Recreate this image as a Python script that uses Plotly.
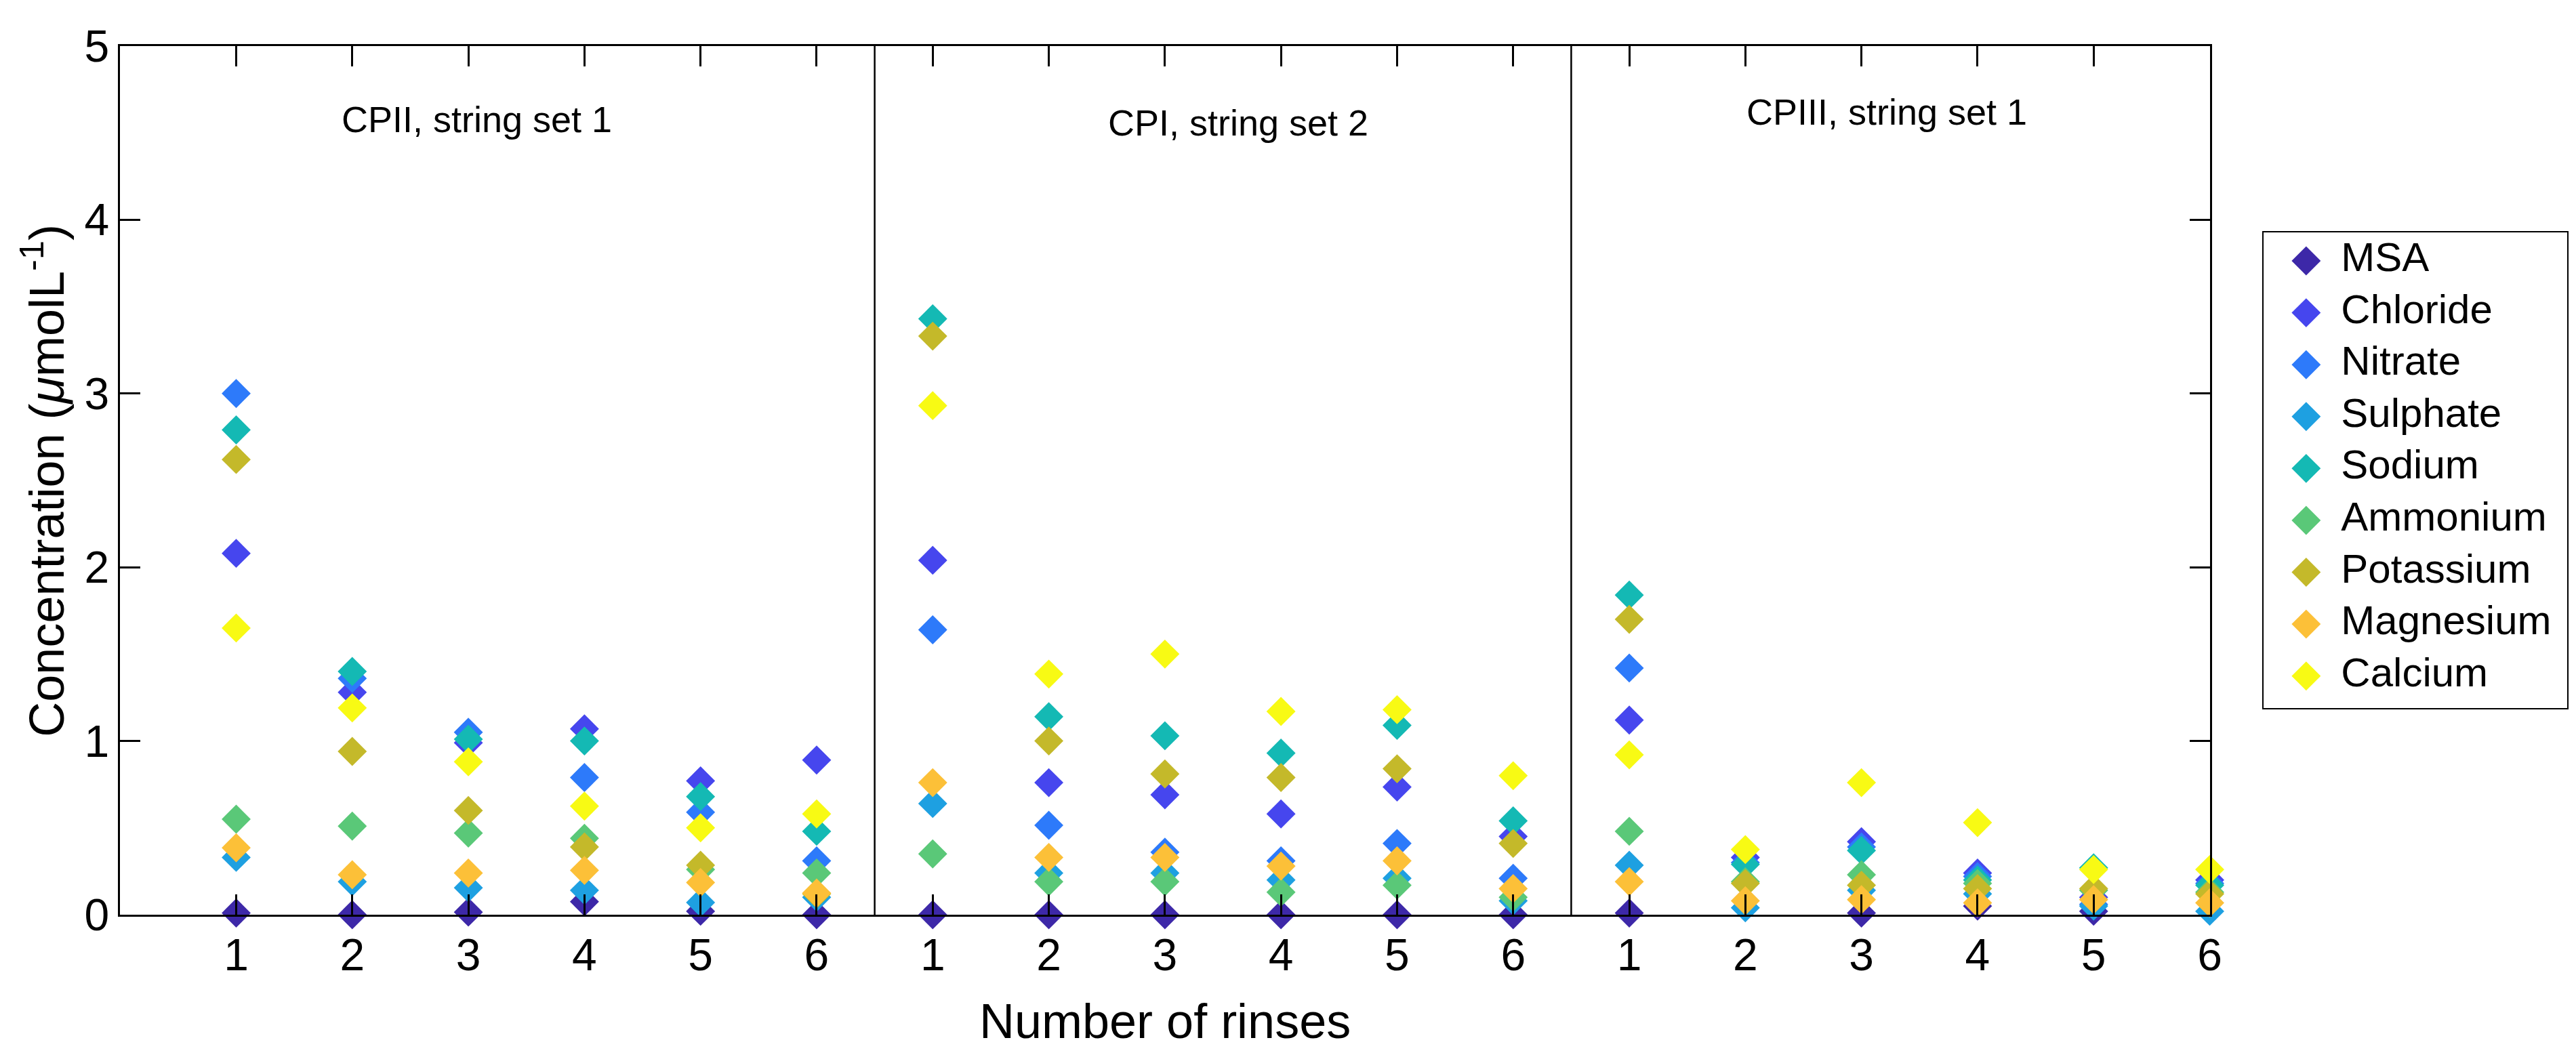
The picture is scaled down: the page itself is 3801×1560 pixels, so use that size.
import plotly.graph_objs as go

# rinse index along the shared x axis (3 panels x 6 rinses)
rinse_pos = list(range(1, 19))
rinse_labels = ["1", "2", "3", "4", "5", "6"] * 3

panel_names = ["CPII, string set 1", "CPI, string set 2", "CPIII, string set 1"]

ions = ["MSA", "Chloride", "Nitrate", "Sulphate", "Sodium",
        "Ammonium", "Potassium", "Magnesium", "Calcium"]

# concentrations (umol/L), panel 1 | panel 2 | panel 3
msa = [0.01, 0.0, 0.015, 0.075, 0.02, 0.0,
       0.0, 0.0, 0.0, 0.0, 0.0, 0.0,
       0.01, -0.04, 0.01, 0.05, 0.02, -0.015]
chloride = [2.08, 1.28, 0.99, 1.07, 0.77, 0.89,
            2.04, 0.76, 0.69, 0.58, 0.735, 0.45,
            1.12, 0.33, 0.42, 0.24, 0.10, 0.20]
nitrate = [3.0, 1.36, 1.05, 0.79, 0.59, 0.31,
           1.64, 0.515, 0.36, 0.31, 0.41, 0.21,
           1.42, 0.30, 0.39, 0.22, 0.06, 0.18]
sulphate = [0.33, 0.19, 0.155, 0.14, 0.07, 0.10,
            0.64, 0.24, 0.24, 0.20, 0.21, 0.08,
            0.285, 0.04, 0.14, 0.12, 0.05, 0.02]
sodium = [2.79, 1.40, 1.01, 1.00, 0.68, 0.48,
          3.43, 1.14, 1.03, 0.93, 1.09, 0.54,
          1.84, 0.29, 0.37, 0.20, 0.27, 0.17]
ammonium = [0.55, 0.51, 0.47, 0.44, 0.26, 0.24,
            0.35, 0.19, 0.19, 0.13, 0.17, 0.10,
            0.48, 0.19, 0.23, 0.18, 0.14, 0.13]
potassium = [2.62, 0.94, 0.60, 0.39, 0.285, 0.12,
             3.33, 1.00, 0.81, 0.79, 0.84, 0.41,
             1.70, 0.18, 0.17, 0.15, 0.15, 0.12]
magnesium = [0.385, 0.23, 0.24, 0.255, 0.185, 0.125,
             0.76, 0.33, 0.33, 0.28, 0.31, 0.15,
             0.19, 0.08, 0.087, 0.068, 0.087, 0.068]
calcium = [1.65, 1.19, 0.88, 0.625, 0.50, 0.58,
           2.93, 1.385, 1.50, 1.17, 1.18, 0.80,
           0.92, 0.375, 0.76, 0.53, 0.26, 0.26]

series = [msa, chloride, nitrate, sulphate, sodium,
          ammonium, potassium, magnesium, calcium]

colors = ["rgb(61,40,168)", "rgb(70,70,238)", "rgb(45,122,250)",
          "rgb(30,160,225)", "rgb(20,185,180)", "rgb(90,200,120)",
          "rgb(196,185,42)", "rgb(252,192,56)", "rgb(248,250,20)"]

FONT = "Liberation Sans, Arial, Helvetica, sans-serif"
W, H = 3801, 1560

fig = go.Figure()

for name, vals, col in zip(ions, series, colors):
    fig.add_trace(go.Scatter(
        x=rinse_pos, y=vals, name=name, mode="markers",
        marker=dict(symbol="diamond", size=33, color=col, line=dict(width=0)),
        cliponaxis=False, showlegend=False))

# hand made legend (plotly caps legend marker size), drawn on its own small axes
fig.add_trace(go.Scatter(
    x=[0.14] * len(ions), y=list(range(len(ions))), mode="markers",
    marker=dict(symbol="diamond", size=33, color=colors, line=dict(width=0)),
    xaxis="x2", yaxis="y2", showlegend=False, cliponaxis=False, hoverinfo="skip"))
fig.add_trace(go.Scatter(
    x=[0.255] * len(ions), y=list(range(len(ions))), mode="text",
    text=ions, textposition="middle right",
    textfont=dict(family=FONT, size=60, color="black"),
    xaxis="x2", yaxis="y2", showlegend=False, cliponaxis=False, hoverinfo="skip"))

# panel separators
for xv in [6.5, 12.5]:
    fig.add_shape(type="line", x0=xv, x1=xv, y0=0, y1=1, xref="x", yref="y domain",
                  line=dict(color="black", width=2.5))

# panel labels
for name, xc, yc in zip(panel_names, [3.07, 9.63, 15.22], [4.58, 4.56, 4.62]):
    fig.add_annotation(x=xc, y=yc, xref="x", yref="y", text=name, showarrow=False,
                       font=dict(family=FONT, size=54, color="black"),
                       xanchor="center", yanchor="middle")

# axis titles
fig.add_annotation(x=1719 / W, y=1 - 1535 / H, xref="paper", yref="paper",
                   text="Number of rinses", showarrow=False,
                   font=dict(family=FONT, size=72, color="black"),
                   xanchor="center", yanchor="middle")
fig.add_annotation(x=56 / W, y=1 - 697 / H, xref="paper", yref="paper",
                   text="Concentration (<i>\u03bc</i>molL<sup>-1</sup>)", textangle=-90,
                   showarrow=False, font=dict(family=FONT, size=72, color="black"),
                   xanchor="center", yanchor="middle")

axis_style = dict(showline=True, linecolor="black", linewidth=2.5, mirror="ticks",
                  ticks="inside", ticklen=30, tickwidth=2.5, tickcolor="black",
                  showgrid=False, zeroline=False, ticklabeloverflow="allow",
                  tickfont=dict(family=FONT, size=66, color="black"))

fig.update_layout(
    width=W, height=H,
    margin=dict(l=0, r=0, t=0, b=0),
    paper_bgcolor="white", plot_bgcolor="white",
    font=dict(family=FONT, color="black"),
    showlegend=False,
    xaxis=dict(domain=[170 / W, 3268 / W], range=[0, 18],
               tickvals=rinse_pos, ticktext=rinse_labels, **axis_style),
    yaxis=dict(domain=[1 - 1370 / H, 1 - 24 / H], range=[0, 5],
               tickvals=[0, 1, 2, 3, 4, 5], **axis_style),
    xaxis2=dict(domain=[3348 / W, 3798 / W], range=[0, 1], anchor="y2",
                showline=True, mirror=True, linecolor="black", linewidth=2,
                showticklabels=False, ticks="", showgrid=False, zeroline=False),
    yaxis2=dict(domain=[1 - 1050 / H, 1 - 313 / H], range=[8.62, -0.547], anchor="x2",
                showline=True, mirror=True, linecolor="black", linewidth=2,
                showticklabels=False, ticks="", showgrid=False, zeroline=False),
)

fig.write_html("out.html")
